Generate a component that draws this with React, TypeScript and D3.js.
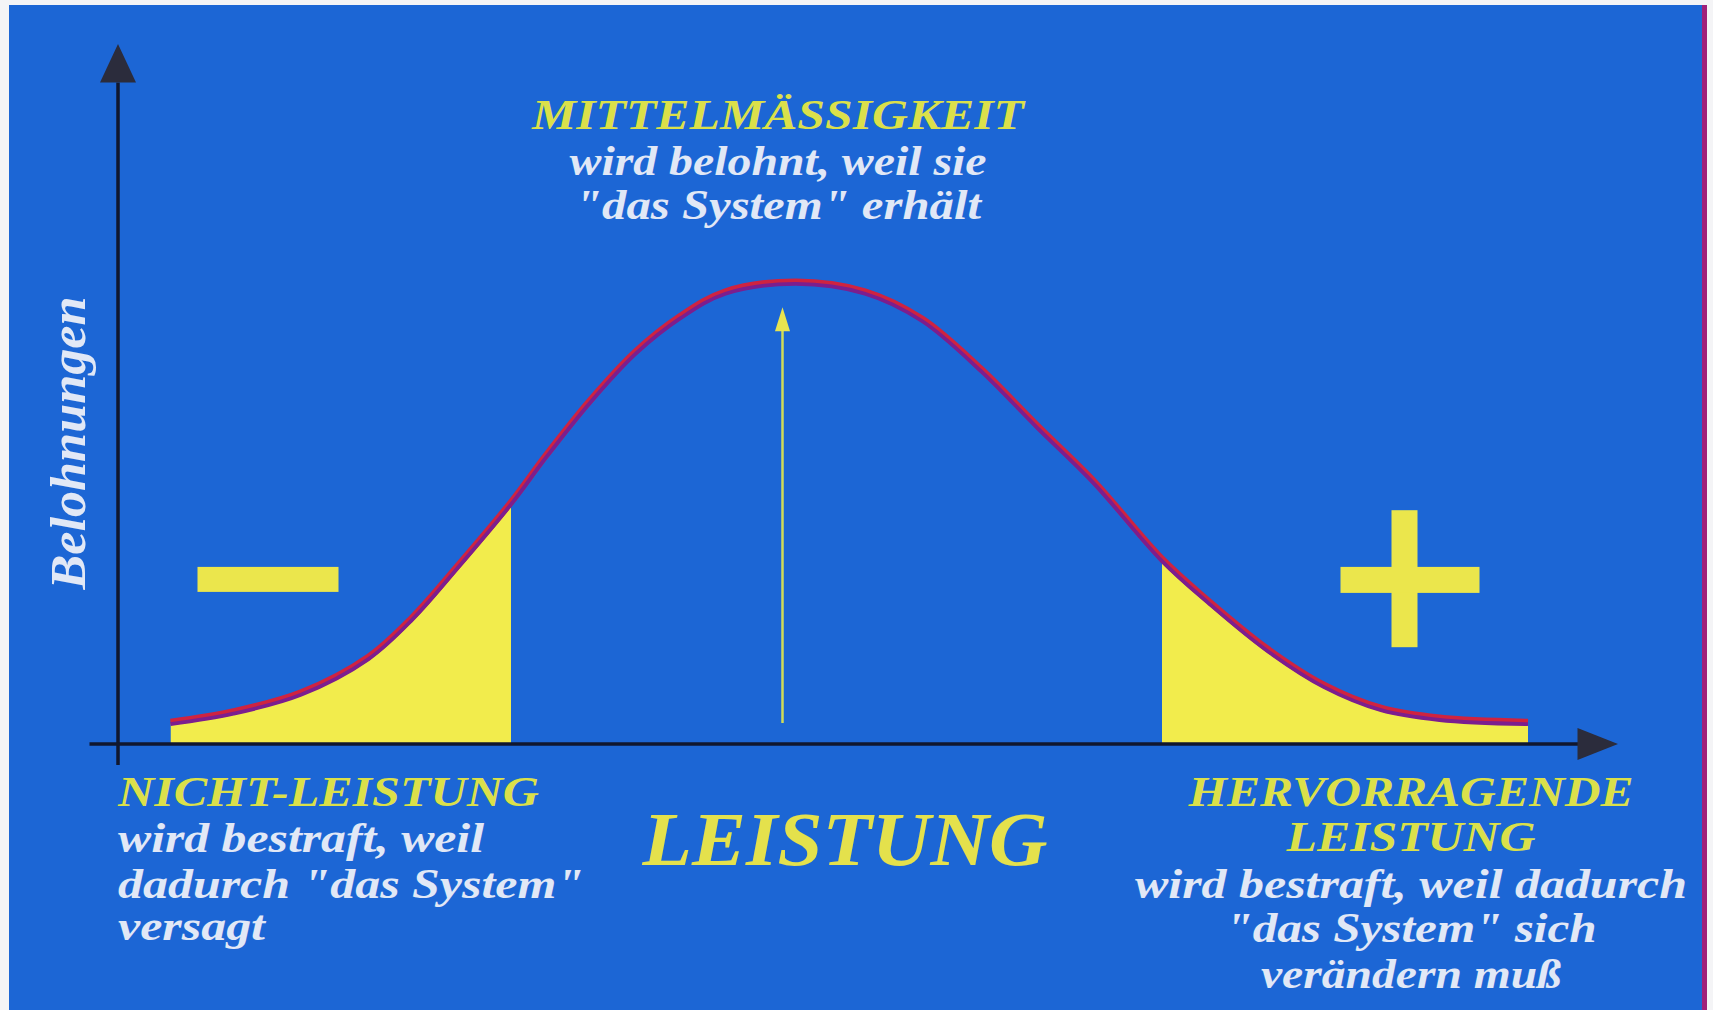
import React, { useEffect, useRef } from 'react';
import * as d3 from 'd3';

// curve: Leistung (x, 0..100) vs Belohnungen (y, 0..100)
const leistung = [3.5, 7.7, 12.2, 16.7, 19.6, 22.6, 26.2, 28.5, 31.5, 34.5, 37.5, 40.5, 45.2, 49.8, 53.6, 57.5, 61.3, 65.1, 69.6, 72.7, 76.6, 80.4, 84.2, 88.1, 94.0];
const belohnung = [3.0, 4.5, 7.2, 12.3, 17.9, 25.2, 34.4, 41.0, 49.0, 55.9, 61.0, 64.5, 65.9, 64.5, 60.6, 53.5, 45.3, 37.3, 26.3, 20.3, 13.5, 8.3, 5.0, 3.6, 3.0];

// shaded tails
const cutLow = 26.2;
const cutHigh = 69.6;

// the arrow pointing up to the middle
const arrowX = 44.3;
const arrowFrom = 3.0;
const arrowTo = 62.4;

const yLabel = 'Belohnungen';
const xLabel = 'LEISTUNG';
const middleLines = ['MITTELMÄSSIGKEIT', 'wird belohnt, weil sie', '"das System" erhält'];
const leftLines = ['NICHT-LEISTUNG', 'wird bestraft, weil', 'dadurch "das System"', 'versagt'];
const rightLines = ['HERVORRAGENDE', 'LEISTUNG', 'wird bestraft, weil dadurch', '"das System" sich', 'verändern muß'];

const W = 1713;
const H = 1010;
const FONT = '"Liberation Serif", "Times New Roman", serif';
const YELLOW_TEXT = '#dbe04a';
const WHITE_TEXT = '#e1e8f6';

export default function App() {
  const ref = useRef<SVGSVGElement | null>(null);

  useEffect(() => {
    document.body.style.margin = '0';
    makeChart();
  }, []);

  const makeChart = () => {
    const svg = d3.select(ref.current);
    svg.selectAll('*').remove();

    // page + blue panel
    svg.append('rect').attr('width', W).attr('height', H).attr('fill', '#f4f4f6');
    svg.append('rect').attr('x', 9).attr('y', 5).attr('width', 1693).attr('height', H - 5).attr('fill', '#1c66d5');
    svg.append('rect').attr('x', 1702).attr('y', 5).attr('width', 5).attr('height', H - 5).attr('fill', '#a0207a');

    const x = d3.scaleLinear().domain([0, 100]).range([118, 1618]);
    const y = d3.scaleLinear().domain([0, 100]).range([744, 44]);

    const pts: [number, number][] = leistung.map((d, i) => [d, belohnung[i]]);

    const line = d3.line<[number, number]>()
      .x(d => x(d[0]))
      .y(d => y(d[1]))
      .curve(d3.curveCatmullRom.alpha(0.5));

    const area = d3.area<[number, number]>()
      .x(d => x(d[0]))
      .y0(y(0))
      .y1(d => y(d[1]))
      .curve(d3.curveCatmullRom.alpha(0.5));

    // clip the tails
    const defs = svg.append('defs');
    defs.append('clipPath').attr('id', 'tail-low')
      .append('rect')
      .attr('x', x(leistung[0]))
      .attr('y', 0)
      .attr('width', x(cutLow) - x(leistung[0]))
      .attr('height', H);
    defs.append('clipPath').attr('id', 'tail-high')
      .append('rect')
      .attr('x', x(cutHigh))
      .attr('y', 0)
      .attr('width', x(leistung[leistung.length - 1]) - x(cutHigh))
      .attr('height', H);

    ['tail-low', 'tail-high'].forEach(id => {
      svg.append('path')
        .datum(pts)
        .attr('d', area)
        .attr('fill', '#f2ec4c')
        .attr('clip-path', `url(#${id})`);
    });

    // the bell curve, red with a purple core
    svg.append('path')
      .datum(pts)
      .attr('d', line)
      .attr('fill', 'none')
      .attr('stroke', '#cf2340')
      .attr('stroke-width', 6.5)
      .attr('transform', 'translate(0,-1)');
    svg.append('path')
      .datum(pts)
      .attr('d', line)
      .attr('fill', 'none')
      .attr('stroke', '#7c1e8e')
      .attr('stroke-width', 3.8)
      .attr('transform', 'translate(0,1.2)');

    // axes
    const axisColor = '#10172e';
    svg.append('line')
      .attr('x1', x(0)).attr('x2', x(0))
      .attr('y1', y(-3)).attr('y2', y(94.5))
      .attr('stroke', axisColor).attr('stroke-width', 3.5);
    svg.append('path')
      .attr('d', `M${x(0)},${y(100)} L${x(0) - 18},${y(94.5)} L${x(0) + 18},${y(94.5)} Z`)
      .attr('fill', '#2b2c3c');

    svg.append('line')
      .attr('x1', x(-1.9)).attr('x2', x(97.4))
      .attr('y1', y(0)).attr('y2', y(0))
      .attr('stroke', axisColor).attr('stroke-width', 3.5);
    svg.append('path')
      .attr('d', `M${x(100)},${y(0)} L${x(97.3)},${y(0) - 16} L${x(97.3)},${y(0) + 16} Z`)
      .attr('fill', '#2b2c3c');

    // middle arrow
    svg.append('line')
      .attr('x1', x(arrowX)).attr('x2', x(arrowX))
      .attr('y1', y(arrowFrom)).attr('y2', y(arrowTo) + 20)
      .attr('stroke', '#cfdc58').attr('stroke-width', 2.5);
    svg.append('path')
      .attr('d', `M${x(arrowX)},${y(arrowTo)} L${x(arrowX) - 7.5},${y(arrowTo) + 24} L${x(arrowX) + 7.5},${y(arrowTo) + 24} Z`)
      .attr('fill', '#e8e450');

    // minus and plus signs
    const signColor = '#ebe64c';
    svg.append('rect')
      .attr('x', x(5.3)).attr('y', y(25.3))
      .attr('width', 141).attr('height', 25)
      .attr('fill', signColor);
    svg.append('rect')
      .attr('x', x(84.9)).attr('y', y(33.4))
      .attr('width', 26).attr('height', 137)
      .attr('fill', signColor);
    svg.append('rect')
      .attr('x', x(81.5)).attr('y', y(25.3))
      .attr('width', 139).attr('height', 26)
      .attr('fill', signColor);

    const txt = (s: string, px: number, py: number, size: number, color: string, anchor: string, len?: number) => {
      const t = svg.append('text')
        .attr('x', px)
        .attr('y', py)
        .attr('text-anchor', anchor)
        .attr('font-family', FONT)
        .attr('font-weight', 'bold')
        .attr('font-style', 'italic')
        .attr('font-size', size)
        .attr('fill', color)
        .text(s);
      if (len) t.attr('textLength', len).attr('lengthAdjust', 'spacingAndGlyphs');
      return t;
    };

    // middle block
    const midW = [492, 417, 406];
    const midY = [129, 175, 219];
    middleLines.forEach((s, i) => txt(s, 778, midY[i], 42, i === 0 ? YELLOW_TEXT : WHITE_TEXT, 'middle', midW[i]));

    // left block
    const leftW = [421, 366, 466, 147];
    const leftY = [806, 852, 898, 940];
    leftLines.forEach((s, i) => txt(s, 118, leftY[i], 42, i === 0 ? YELLOW_TEXT : WHITE_TEXT, 'start', leftW[i]));

    // right block
    const rightW = [445, 249, 552, 371, 300];
    const rightY = [806, 851, 898, 942, 988];
    rightLines.forEach((s, i) => txt(s, 1411, rightY[i], 42, i < 2 ? YELLOW_TEXT : WHITE_TEXT, 'middle', rightW[i]));

    // axis labels
    txt(xLabel, 845, 865, 76, '#e4e14c', 'middle', 405);
    txt(yLabel, 0, 0, 50, WHITE_TEXT, 'middle', 293)
      .attr('transform', `translate(85,${y(43)}) rotate(-90)`);
  };

  return (
    <svg ref={ref} width={W} height={H} style={{ position: 'absolute', left: 0, top: 0, display: 'block' }} />
  );
}
